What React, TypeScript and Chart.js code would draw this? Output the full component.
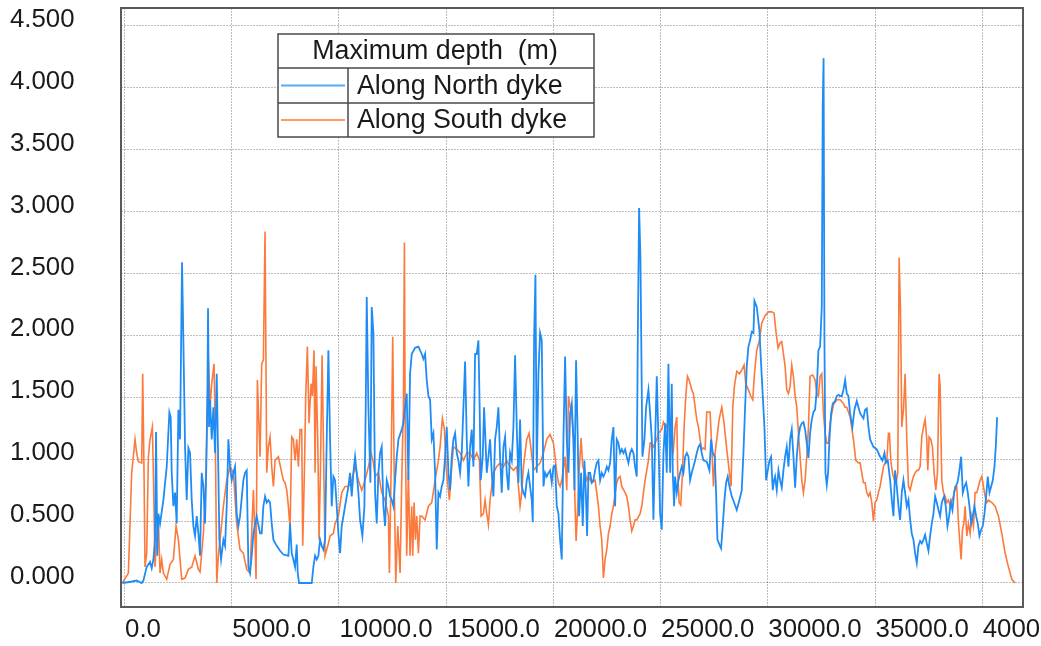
import React, { useEffect, useRef } from "react";
import { Chart, registerables } from "chart.js";

Chart.register(...registerables);

// Distance along dyke (m), maximum depth (m)
const northProfile: [number, number][] = [
  [-100, 0], [300, 0.01], [560, 0.02], [800, 0], [880, 0.02], [1034, 0.13], [1190, 0.17], [1267, 0.12], [1345, 0.19], [1422, 0.35],
  [1469, 1.22], [1531, 0.22], [1578, 0.56], [1656, 0.48], [1811, 0.67], [1967, 0.94], [2091, 1.38], [2153, 1.34], [2200, 0.89], [2278, 0.62],
  [2355, 0.73], [2433, 0.48], [2511, 1.4], [2588, 1.16], [2635, 1.88], [2682, 2.59], [2744, 1.96], [2822, 1.1], [2899, 0.67], [2977, 1.09],
  [3055, 1.05], [3133, 0.67], [3210, 0.46], [3288, 0.38], [3366, 0.54], [3444, 0.4], [3521, 0.22], [3599, 0.89], [3677, 0.78], [3754, 0.48],
  [3801, 0.83], [3863, 1.51], [3894, 2.22], [3941, 1.26], [3988, 1.48], [4065, 1.16], [4143, 1.42], [4221, 1.05], [4299, 1.69], [4376, 0.89],
  [4423, 0.35], [4501, 0.19], [4610, 0.35], [4687, 0.3], [4765, 0.62], [4843, 1.16], [4921, 0.94], [4998, 0.83], [5076, 0.89], [5154, 0.94],
  [5231, 0.56], [5309, 0.46], [5387, 0.54], [5542, 0.83], [5620, 0.89], [5698, 0.91], [5776, 0.13], [5853, 0.08], [5931, 0.22], [6009, 0.4],
  [6164, 0.54], [6320, 0.4], [6397, 0.4], [6475, 0.62], [6553, 0.7],
  [6631, 0.65], [6708, 0.67], [6786, 0.65], [6864, 0.48], [6942, 0.35], [7097, 0.3], [7253, 0.26], [7408, 0.23], [7641, 0.22], [7719, 0.48],
  [7797, 0.24], [7874, 0.19], [7952, 0.13], [8030, 0.31], [8077, 0.08], [8139, 0], [8730, 0], [8807, 0.13], [8885, 0.22], [8963, 0.19],
  [9041, 0.22], [9118, 0.35], [9196, 0.3], [9274, 0.27], [9351, 0.35], [9429, 1.16], [9507, 1.88], [9585, 1.16], [9662, 0.62], [9740, 0.86],
  [9818, 0.83], [9896, 0.62], [9973, 0.4], [10051, 0.24], [10129, 0.46], [10284, 0.62], [10440, 0.78], [10517, 0.89], [10595, 0.7], [10673, 0.89],
  [10751, 1.02], [10828, 0.89], [10906, 0.73], [10984, 0.51], [11093, 0.38], [11186, 0.62], [11248, 1.42], [11295, 2.31], [11373, 1.42], [11466, 0.81],
  [11528, 2.23], [11606, 2.02], [11684, 0.73], [11761, 0.48], [11839, 0.89], [11917, 1.05], [11994, 1.1], [12072, 0.62], [12150, 0.46], [12228, 0.83],
  [12305, 0.78], [12383, 0.7], [12461, 0.67], [12539, 0.62], [12616, 0.83], [12694, 1.02], [12772, 1.16], [12927, 1.24], [13005, 1.29], [13083, 1.42],
  [13160, 1.53], [13238, 0.83], [13316, 1.69],
  [13394, 1.85], [13549, 1.9], [13705, 1.91], [13860, 1.85], [13938, 1.81], [14016, 1.85], [14093, 1.64], [14171, 1.51], [14249, 1.48], [14327, 1.16],
  [14404, 1.21], [14482, 0.89], [14560, 0.27], [14637, 0.73], [14715, 0.7], [14793, 0.78], [14871, 0.83], [14948, 1.02], [15026, 1.26], [15104, 0.89],
  [15182, 0.75], [15259, 1.02], [15337, 1.16], [15415, 1.21], [15493, 1.05], [15570, 0.99], [15648, 0.89], [15726, 1.05], [15804, 1.42], [15881, 1.79],
  [15959, 1.16], [16037, 0.78], [16114, 1.1], [16192, 1.24], [16270, 0.94], [16348, 1.85], [16425, 1.85], [16503, 1.96], [16550, 1.53], [16612, 0.83],
  [16705, 1.02], [16767, 1.42], [16830, 1.16], [16892, 0.89], [16970, 1.02], [17047, 1.16], [17125, 0.89], [17203, 0.7], [17281, 1.16], [17358, 1.26],
  [17436, 1.42], [17514, 1.02], [17591, 0.73], [17669, 1.1], [17747, 1.18], [17825, 0.89], [17902, 0.75], [17980, 1.05], [18058, 0.99], [18136, 1.26],
  [18213, 1.84], [18291, 1.26], [18369, 0.81], [18446, 1.32], [18524, 0.78], [18602, 0.73], [18680, 0.7], [18757, 0.83], [18835, 0.89], [18913, 0.78],
  [18991, 0.67], [19037, 0.49], [19099, 1.96], [19162, 2.49], [19224, 0.89], [19302, 1.69], [19379, 2.02], [19457, 1.96], [19535, 0.78], [19613, 0.89],
  [19690, 0.86], [19768, 0.89], [19846, 0.91], [19924, 0.81], [20001, 0.94], [20079, 0.95],
  [20157, 0.62], [20234, 0.56], [20312, 0.35], [20390, 0.19], [20468, 1.16], [20545, 1.83], [20623, 1.16], [20701, 0.89], [20779, 1.37], [20856, 1.45],
  [20934, 1.16], [20981, 0.75], [21058, 1.8], [21136, 1.16], [21198, 0.54], [21292, 0.89], [21369, 0.46], [21447, 0.99], [21509, 0.75], [21572, 0.38],
  [21634, 0.89], [21711, 0.89], [21789, 0.81], [21867, 0.83], [21945, 0.91], [22022, 0.97], [22100, 0.99], [22178, 0.83], [22256, 0.89], [22333, 0.86],
  [22411, 0.89], [22489, 0.94], [22567, 0.91], [22644, 0.97], [22722, 1.16], [22800, 1.26], [22877, 0.62], [22955, 1.16], [23033, 1.13], [23111, 1.05],
  [23188, 1.08], [23266, 1.05], [23344, 1.08], [23422, 1.02], [23499, 0.97], [23577, 1.05], [23655, 1.08], [23733, 1.05], [23810, 0.94], [23888, 0.86],
  [23935, 1.96], [23997, 3.03], [24059, 2.63], [24152, 1.02], [24246, 1.16], [24323, 1.42], [24432, 1.56], [24510, 1.37], [24588, 1.16], [24665, 0.51],
  [24743, 1.13], [24821, 1.67], [24899, 1.16], [24976, 0.56], [25054, 0.43], [25132, 1.05], [25210, 1.29], [25287, 0.89], [25365, 1.77], [25443, 0.89],
  [25520, 1.61], [25567, 0.89], [25629, 0.62], [25676, 0.86], [25754, 0.73], [25831, 0.83], [25909, 0.89], [25987, 0.94], [26065, 0.89], [26142, 1.02],
  [26220, 1.05], [26298, 1.02], [26375, 0.83], [26453, 0.89], [26531, 0.94], [26609, 0.99], [26686, 1.05], [26764, 1.1], [26841, 1.12],
  [26919, 1.05], [26996, 0.99], [27152, 0.98], [27276, 0.91], [27354, 1.16], [27432, 1.05], [27525, 1.02], [27587, 0.73], [27649, 0.35], [27743, 0.31],
  [27820, 0.28], [27898, 0.46], [27976, 0.67], [28054, 0.81], [28131, 0.86], [28209, 0.78], [28318, 0.7], [28427, 0.65], [28551, 0.59], [28676, 0.67],
  [28784, 0.75], [28862, 1.05], [28940, 1.42], [29018, 1.75], [29095, 1.91], [29173, 1.96], [29251, 2.03], [29329, 2.02], [29375, 2.28], [29484, 2.23],
  [29608, 2.04], [29686, 1.77], [29764, 1.51], [29842, 1.26], [29919, 0.83], [29997, 0.91], [30075, 0.99], [30152, 1.02], [30230, 0.75], [30292, 0.83],
  [30339, 0.86], [30417, 0.75], [30494, 0.91], [30572, 0.83], [30650, 0.77], [30728, 0.91], [30805, 1.02], [30883, 1.1], [30961, 0.94], [31039, 1.16],
  [31116, 1.24], [31194, 1.02], [31272, 0.77], [31350, 1.02], [31427, 1.18], [31505, 1.26], [31583, 1.29], [31660, 1.3], [31738, 1.24], [31816, 1.13],
  [31894, 1.01], [31971, 1.21], [32049, 1.32], [32127, 1.38], [32205, 1.4], [32282, 1.56], [32360, 1.88], [32438, 1.91], [32516, 2.23], [32560, 3.85],
  [32600, 4.24], [32640, 1.96], [32687, 0.89], [32749, 0.79], [32811, 0.89], [32873, 1.16], [32951, 1.37], [33029, 1.45], [33138, 1.47], [33215, 1.51],
  [33293, 1.52], [33371, 1.51], [33449, 1.51], [33526, 1.56], [33604, 1.64],
  [33682, 1.53], [33759, 1.51], [33837, 1.37], [33946, 1.26], [34039, 1.4], [34148, 1.47], [34226, 1.42], [34304, 1.37], [34459, 1.33], [34537, 1.4],
  [34615, 1.41], [34692, 1.26], [34770, 1.16], [34925, 1.1], [35081, 1.08], [35236, 1.02], [35345, 0.99], [35439, 1.05], [35501, 0.97], [35594, 0.99],
  [35703, 0.83], [35781, 0.67], [35858, 0.54], [35936, 0.91], [36014, 0.78], [36092, 0.62], [36169, 0.51], [36247, 0.73], [36325, 0.83], [36402, 0.73],
  [36480, 0.62], [36558, 0.67], [36636, 0.51], [36713, 0.4], [36791, 0.35], [36869, 0.24], [36947, 0.16], [37024, 0.3], [37102, 0.34], [37180, 0.32],
  [37258, 0.35], [37335, 0.39], [37413, 0.32], [37491, 0.26], [37568, 0.38], [37646, 0.48], [37724, 0.56], [37802, 0.7], [37879, 0.65], [37957, 0.59],
  [38035, 0.54], [38113, 0.65], [38221, 0.7], [38299, 0.62], [38377, 0.46], [38455, 0.54], [38532, 0.65], [38610, 0.59], [38688, 0.73], [38766, 0.78],
  [38843, 0.81], [38921, 0.89], [39014, 1.02], [39092, 0.73], [39170, 0.78], [39248, 0.81], [39325, 0.73], [39403, 0.62], [39481, 0.48], [39559, 0.54],
  [39636, 0.62], [39714, 0.54], [39792, 0.48], [39869, 0.38], [39947, 0.43], [40025, 0.46], [40103, 0.56], [40180, 0.7], [40258, 0.86], [40336, 0.73],
  [40414, 0.78], [40491, 0.83], [40569, 0.94], [40631, 1.1], [40693, 1.34],
];

const southProfile: [number, number][] = [
  [-100, 0], [179, 0.08], [334, 0.89], [490, 1.16], [567, 1.05], [645, 0.98], [801, 0.97], [847, 1.69], [909, 0.89], [956, 0.13],
  [1034, 0.24], [1111, 1.02], [1189, 1.16], [1298, 1.26], [1345, 0.89], [1422, 0.13], [1500, 0.35], [1578, 0.51], [1656, 0.08], [1733, 0.19],
  [1811, 0.08], [1967, 0.03], [2122, 0.15], [2278, 0.19], [2402, 0.46], [2511, 0.35], [2666, 0.03], [2822, 0.04], [2977, 0.11], [3133, 0.13],
  [3288, 0.22], [3444, 0.11], [3521, 0.09], [3677, 0.4], [3801, 0.89], [3910, 1.81], [3988, 1.42], [4065, 1.61], [4174, 1.77], [4236, 1.16],
  [4299, 0], [4376, 0.22], [4454, 0.35], [4610, 0.62], [4765, 0.83], [4921, 0.94], [5076, 0.89], [5231, 0.48], [5387, 0.27], [5542, 0.24],
  [5698, 0.11], [5853, 0.08], [6009, 0.75], [6086, 0.35], [6133, 0.03], [6195, 1.64], [6320, 1.02], [6397, 1.77], [6475, 1.8], [6553, 2.84],
  [6631, 0.89], [6708, 1.1], [6786, 1.18], [6864, 0.94], [6942, 0.78], [7019, 0.99], [7175, 1.02], [7330, 0.89], [7408, 0.83], [7486, 0.81],
  [7564, 0.75], [7641, 0.62], [7719, 0.43], [7797, 1.18], [7874, 1.16], [7952, 0.99], [8030, 1.16], [8108, 0.94], [8185, 1.24], [8263, 1.24],
  [8310, 0.3], [8387, 0.89], [8450, 1.51], [8527, 1.91], [8605, 1.29], [8698, 1.61], [8761, 1.51], [8838, 1.88], [8885, 0.89], [8932, 1.75],
  [9010, 1.16], [9072, 0.35], [9134, 0.89], [9212, 1.84], [9274, 1.16], [9351, 0.22], [9429, 0.27], [9507, 0.32], [9585, 0.38], [9740, 0.4],
  [9818, 0.48], [9973, 0.54], [10129, 0.73], [10284, 0.78], [10440, 0.78], [10595, 0.83], [10751, 0.94], [10906, 0.83], [11062, 0.75], [11217, 0.83],
  [11373, 0.94], [11497, 1.05], [11606, 0.97], [11684, 0.86], [11839, 0.89], [11994, 0.73], [12150, 0.67], [12305, 0.54], [12352, 0.08], [12430, 0.89],
  [12507, 1.99], [12585, 0.73], [12647, 0], [12741, 0.46], [12850, 0.08], [12927, 0.83], [13005, 1.42], [13052, 2.75], [13083, 1.42], [13160, 0.22],
  [13238, 0.89], [13316, 0.22],
  [13394, 0.62], [13440, 0.22], [13503, 0.65], [13565, 0.35], [13627, 0.54], [13705, 0.24], [13782, 0.54], [13860, 0.54], [14016, 0.51], [14171, 0.62],
  [14327, 0.65], [14482, 0.83], [14560, 0.91], [14637, 0.99], [14715, 1.1], [14824, 1.33], [14917, 1.24], [14995, 0.94], [15057, 0.83], [15150, 0.67],
  [15259, 0.94], [15337, 1.1], [15493, 1.08], [15648, 1.05], [15804, 0.99], [15959, 1.05], [16114, 1.05], [16270, 0.99], [16425, 1.05], [16550, 0.99],
  [16628, 0.54], [16736, 0.56], [16814, 0.67], [16892, 0.56], [16970, 0.47], [17047, 0.67], [17203, 0.89], [17358, 0.94], [17514, 0.97], [17669, 0.94],
  [17825, 0.99], [17980, 0.94], [18136, 0.91], [18291, 0.94], [18369, 0.78], [18446, 0.62], [18524, 0.73], [18602, 0.94], [18757, 1.16], [18866, 1.21],
  [18944, 1.1], [19068, 0.91], [19224, 0.94], [19379, 0.97], [19535, 1.05], [19690, 1.16], [19846, 1.2], [20001, 1.13], [20079, 1.02],
  [20157, 0.89], [20234, 0.81], [20312, 0.78], [20390, 0.83], [20545, 1.02], [20623, 0.75], [20701, 1.51], [20779, 1.42], [20856, 1.37], [20934, 1.16],
  [21012, 0.62], [21058, 0.34], [21136, 0.62], [21198, 0.89], [21292, 1.17], [21369, 0.94], [21478, 0.89], [21556, 0.83], [21634, 0.86], [21789, 0.81],
  [21945, 0.83], [22022, 0.73], [22100, 0.62], [22178, 0.46], [22256, 0.35], [22333, 0.04], [22411, 0.19], [22489, 0.27], [22567, 0.4], [22644, 0.46],
  [22722, 0.56], [22800, 0.62], [22877, 0.73], [22955, 0.81], [23033, 0.85], [23111, 0.86], [23188, 0.78], [23344, 0.73], [23422, 0.7], [23499, 0.62],
  [23577, 0.51], [23655, 0.42], [23733, 0.46], [23810, 0.51], [23888, 0.51], [24043, 0.56], [24121, 0.62], [24199, 0.73], [24276, 0.83], [24354, 0.91],
  [24432, 0.99], [24510, 1.13], [24588, 1.13], [24665, 1.1], [24821, 1.16], [24899, 1.21], [25054, 1.24], [25132, 1.3], [25287, 1.26], [25365, 1.3],
  [25443, 1.26], [25520, 1.16], [25598, 1.08], [25676, 1.26], [25754, 1.34], [25800, 0.89], [25862, 0.65], [25940, 0.63], [26018, 0.89], [26096, 1.26],
  [26173, 1.51], [26251, 1.67], [26329, 1.64], [26453, 1.56], [26531, 1.53], [26609, 1.42], [26686, 1.32], [26764, 1.26], [26841, 1.16],
  [26919, 1.08], [26996, 1.09], [27074, 1.08], [27152, 1.38], [27307, 1.38], [27385, 1.1], [27463, 0.78], [27541, 1.05], [27618, 1.16], [27727, 1.32],
  [27852, 1.42], [27960, 1.29], [28085, 1.08], [28209, 0.89], [28287, 0.78], [28365, 1.42], [28442, 1.59], [28551, 1.71], [28676, 1.69], [28784, 1.72],
  [28893, 1.76], [28971, 1.61], [29095, 1.56], [29204, 1.51], [29298, 1.48], [29375, 1.69], [29484, 1.88], [29608, 1.96], [29717, 2.1], [29873, 2.16],
  [30028, 2.19], [30184, 2.19], [30292, 2.18], [30386, 2.02], [30479, 1.9], [30572, 1.94], [30650, 1.95], [30728, 1.85], [30805, 1.75], [30883, 1.56],
  [30961, 1.53], [31039, 1.59], [31116, 1.76], [31194, 1.67], [31272, 1.51], [31350, 1.42], [31427, 1.21], [31505, 1.02], [31583, 0.83], [31660, 0.73],
  [31738, 0.83], [31816, 1.02], [31894, 1.26], [31971, 1.67], [32096, 1.68], [32205, 1.64], [32282, 1.53], [32360, 1.51], [32438, 1.67], [32516, 1.69],
  [32593, 1.37], [32671, 1.21], [32749, 1.13], [32827, 1.13], [32904, 1.29], [32982, 1.37], [33060, 1.44], [33215, 1.48], [33371, 1.48], [33526, 1.45],
  [33604, 1.42],
  [33682, 1.42], [33837, 1.34], [33993, 1.16], [34101, 0.99], [34226, 0.97], [34304, 0.97], [34381, 0.89], [34459, 0.81], [34537, 0.81], [34615, 0.73],
  [34692, 0.7], [34770, 0.73], [34848, 0.65], [34925, 0.5], [35003, 0.65], [35081, 0.67], [35159, 0.73], [35236, 0.78], [35314, 0.86], [35392, 0.94],
  [35470, 0.97], [35547, 0.99], [35625, 1.21], [35672, 1.21], [35734, 0.99], [35812, 0.89], [35905, 0.83], [35983, 0.81], [36060, 0.89], [36123, 2.63],
  [36185, 2.23], [36247, 1.26], [36325, 1.4], [36402, 1.69], [36480, 1.16], [36558, 0.78], [36636, 0.75], [36713, 0.81], [36791, 0.86], [36869, 0.89],
  [36947, 0.91], [37024, 0.91], [37102, 0.94], [37180, 1.18], [37258, 1.26], [37335, 1.32], [37413, 1.16], [37460, 0.91], [37522, 1.18], [37600, 1.16],
  [37677, 1.1], [37755, 0.89], [37833, 0.75], [37911, 0.89], [37988, 1.69], [38035, 1.59], [38113, 0.83], [38190, 0.73], [38268, 0.7], [38346, 0.65],
  [38424, 0.67], [38501, 0.62], [38579, 0.67], [38657, 0.7], [38735, 0.78], [38812, 0.78], [38890, 0.48], [38968, 0.3], [39014, 0.19], [39076, 0.43],
  [39139, 0.48], [39201, 0.62], [39279, 0.38], [39356, 0.48], [39434, 0.4], [39512, 0.54], [39590, 0.46], [39667, 0.73], [39745, 0.73], [39823, 0.78],
  [39901, 0.83], [39978, 0.86], [40056, 0.78], [40134, 0.7], [40211, 0.65], [40289, 0.67], [40445, 0.65], [40600, 0.62], [40756, 0.54], [40911, 0.4],
  [41067, 0.24], [41222, 0.13], [41378, 0.03], [41533, 0],
];

const xTickValues = [0, 5000, 10000, 15000, 20000, 25000, 30000, 35000, 40000];
const yTickValues = [0, 0.5, 1, 1.5, 2, 2.5, 3, 3.5, 4, 4.5];

const legendTitle = "Maximum depth  (m)";
const seriesNames = ["Along North dyke", "Along South dyke"];
const seriesColors = ["#1f8cf5", "#fb7a3c"];
const legendColors = ["#55aaff", "#ff9966"];

const FONT = "'Liberation Sans', Arial, Helvetica, sans-serif";

const overlayPlugin = {
  id: "overlay",
  afterDraw(chart: any) {
    const { ctx, chartArea } = chart;
    const xs = chart.scales.x;
    const ys = chart.scales.y;
    ctx.save();
    // frame
    ctx.strokeStyle = "#5a5a5a";
    ctx.lineWidth = 2;
    ctx.strokeRect(chartArea.left, chartArea.top, chartArea.right - chartArea.left, chartArea.bottom - chartArea.top);

    // y tick labels
    ctx.fillStyle = "#1a1a1a";
    ctx.font = `25.8px ${FONT}`;
    ctx.textBaseline = "alphabetic";
    ctx.textAlign = "left";
    yTickValues.forEach((v) => {
      const y = ys.getPixelForValue(v);
      ctx.fillText(v.toFixed(3), 10, y + 1);
    });
    // x tick labels (left aligned to their grid line)
    xTickValues.forEach((v) => {
      const x = xs.getPixelForValue(v);
      ctx.fillText(v.toFixed(1), x + 0.5, chartArea.bottom + 30);
    });

    // legend table
    const L = 278, T = 34, R = 594, B = 137, r1 = 68, r2 = 103, c1 = 348;
    ctx.fillStyle = "#ffffff";
    ctx.fillRect(L, T, R - L, B - T);
    ctx.strokeStyle = "#4a4a4a";
    ctx.lineWidth = 1.5;
    ctx.strokeRect(L, T, R - L, B - T);
    ctx.beginPath();
    ctx.moveTo(L, r1); ctx.lineTo(R, r1);
    ctx.moveTo(L, r2); ctx.lineTo(R, r2);
    ctx.moveTo(c1, r1); ctx.lineTo(c1, B);
    ctx.stroke();

    ctx.fillStyle = "#1a1a1a";
    ctx.font = `26.8px ${FONT}`;
    ctx.textAlign = "center";
    ctx.textBaseline = "middle";
    ctx.fillText(legendTitle, (L + R) / 2 - 1, (T + r1) / 2 + 1);
    ctx.textAlign = "left";
    const rows = [(r1 + r2) / 2, (r2 + B) / 2];
    rows.forEach((cy, i) => {
      ctx.strokeStyle = legendColors[i];
      ctx.lineWidth = 2;
      ctx.beginPath();
      ctx.moveTo(L + 3, cy);
      ctx.lineTo(c1 - 3, cy);
      ctx.stroke();
      ctx.fillStyle = "#1a1a1a";
      ctx.fillText(seriesNames[i], c1 + 9, cy + 1);
    });
    ctx.restore();
  },
};

export default function App() {
  const ref = useRef<HTMLCanvasElement | null>(null);
  useEffect(() => {
    if (!ref.current) return;
    const toPoints = (p: [number, number][]) => p.map(([x, y]) => ({ x, y }));
    const chart = new Chart(ref.current, {
      type: "line",
      data: {
        datasets: [
          {
            label: seriesNames[0],
            data: toPoints(northProfile),
            borderColor: seriesColors[0],
            borderWidth: 1.8,
            pointRadius: 0,
            tension: 0,
            fill: false,
          },
          {
            label: seriesNames[1],
            data: toPoints(southProfile),
            borderColor: seriesColors[1],
            borderWidth: 1.6,
            pointRadius: 0,
            tension: 0,
            fill: false,
          },
        ],
      },
      options: {
        responsive: false,
        animation: false,
        events: [],
        layout: { padding: { left: 121, top: 8, right: 18, bottom: 39 } },
        plugins: { legend: { display: false }, tooltip: { enabled: false }, title: { display: false } },
        scales: {
          x: {
            type: "linear",
            min: -165,
            max: 41900,
            afterBuildTicks: (s: any) => { s.ticks = xTickValues.map((value) => ({ value })); },
            afterFit: (s: any) => { s.height = 0; },
            ticks: { display: false },
            grid: { color: "rgba(0,0,0,0.26)", lineWidth: 1, drawTicks: false },
            border: { display: false, dash: [2, 1] },
          },
          y: {
            type: "linear",
            min: -0.194,
            max: 4.645,
            afterBuildTicks: (s: any) => { s.ticks = yTickValues.map((value) => ({ value })); },
            afterFit: (s: any) => { s.width = 0; },
            ticks: { display: false },
            grid: { color: "rgba(0,0,0,0.26)", lineWidth: 1, drawTicks: false },
            border: { display: false, dash: [2, 1] },
          },
        },
      },
      plugins: [overlayPlugin],
    });
    return () => chart.destroy();
  }, []);
  return (
    <div style={{ position: "absolute", left: 0, top: 0, width: 1041, height: 646, background: "#fff" }}>
      <canvas ref={ref} width={1041} height={646} style={{ display: "block" }} />
    </div>
  );
}
